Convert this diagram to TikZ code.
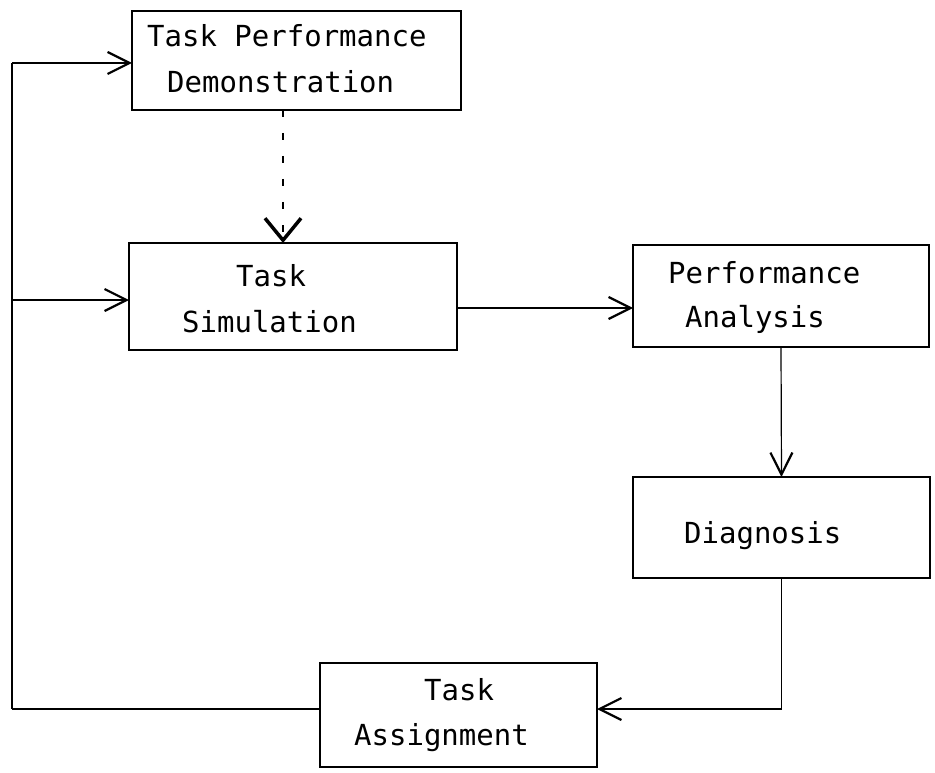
\documentclass[tikz,border=0pt]{standalone}
\usepackage{fontspec}
\newfontfamily\tw{DejaVu Sans Mono}
\usetikzlibrary{arrows.meta}
\begin{document}
\begin{tikzpicture}[x=1pt,y=-1pt,
 box/.style={draw, line width=2pt, inner sep=0pt, outer sep=0pt},
 lbl/.style={anchor=base west, inner sep=0pt, font=\tw\fontsize{29}{29}\selectfont},
 heavy/.style={line width=2.6pt},
 light/.style={line width=1.2pt},
 arr/.style={-{Straight Barb[length=22pt,width=22pt,line width=2.2pt]}},
 bigarr/.style={-{Straight Barb[length=22pt,width=36pt,line width=3.5pt]}},
]
\useasboundingbox (0,0) rectangle (935,773);
% boxes
\node[box, minimum width=329pt, minimum height=99pt] (b1) at (296.5,60.5) {};
\node[box, minimum width=328pt, minimum height=107pt] (b2) at (293,296.5) {};
\node[box, minimum width=296pt, minimum height=102pt] (b3) at (781,296) {};
\node[box, minimum width=297pt, minimum height=101pt] (b4) at (781.5,527.5) {};
\node[box, minimum width=277pt, minimum height=104pt] (b5) at (458.5,715) {};
% texts
\node[lbl] (t1a) at (147,47) {Task Performance};
\node[lbl] (t1b) at (167,93) {Demonstration};
\node[lbl] (t2a) at (236,286) {Task};
\node[lbl] (t2b) at (182,332) {Simulation};
\node[lbl] (t3a) at (668,283) {Performance};
\node[lbl] (t3b) at (685,327) {Analysis};
\node[lbl] (t4) at (684,543) {Diagnosis};
\node[lbl] (t5a) at (424,700) {Task};
\node[lbl] (t5b) at (354,745) {Assignment};
% connector points
\coordinate (tl) at (12,63);
\coordinate (ml) at (12,300);
\coordinate (bl) at (12,709);
\coordinate (br) at (780,709);
\coordinate (a23) at (457,308);
% connectors
\draw[light] (tl) -- (bl);
\draw[heavy,arr] (tl) -- (tl -| b1.west);
\draw[heavy,arr] (ml) -- (ml -| b2.west);
\draw[heavy] (bl) -- (bl -| b5.west);
\draw[light, dash pattern=on 7pt off 16pt, bigarr] ([xshift=-13.5pt]b1.south) -- ([xshift=-13.5pt]b1.south |- b2.north);
\draw[heavy,arr] (a23 -| b2.east) -- (a23 -| b3.west);
\draw[light,arr] (b3.south) -- (b4.north);
\draw[light] (b4.south) -- (b4.south |- br);
\draw[heavy,arr] (b4.south |- br) -- (br -| b5.east);
\end{tikzpicture}
\end{document}
